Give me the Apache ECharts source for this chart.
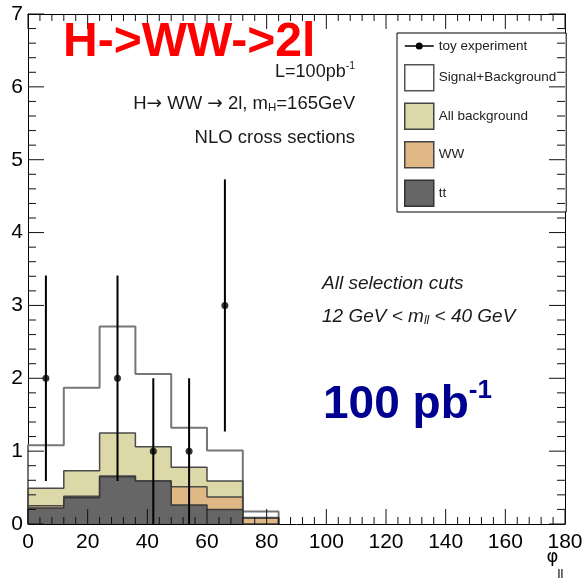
<!DOCTYPE html>
<html><head><meta charset="utf-8">
<script src="https://cdn.jsdelivr.net/npm/echarts@6/dist/echarts.min.js"></script>
<style>html,body{margin:0;padding:0;background:#fff}#c{width:587px;height:581px}</style>
</head><body><div id="c"></div>
<script>
// ---- data ----
const binEdges = [0, 12, 24, 36, 48, 60, 72, 84];
const sigBkg = [1.08, 1.87, 2.71, 2.06, 1.32, 1.01, 0.17];   // Signal+Background
const allBkg = [0.49, 0.73, 1.25, 1.06, 0.78, 0.59, 0.09];   // All background
const wwOnly = [0.03, 0.02, 0.01, 0.00, 0.25, 0.17, 0.08];   // WW (stacked on tt)
const ttOnly = [0.22, 0.36, 0.65, 0.59, 0.26, 0.20, 0.00];   // tt
const toyX = [6, 30, 42, 54, 66];
const toyY = [2, 2, 1, 1, 3];
const toyLow = [0.59, 0.59, 0.00, 0.00, 1.27];
const toyHigh = [3.41, 3.41, 2.00, 2.00, 4.73];
const xTickLabels = ['0', '20', '40', '60', '80', '100', '120', '140', '160', '180'];
const yTickLabels = ['0', '1', '2', '3', '4', '5', '6', '7'];
const xMinorPerMajor = 5;
const yMinorPerMajor = 5;

const FONT = 'Liberation Sans, Arial, Helvetica, sans-serif';
const wwTop = ttOnly.map((t, i) => t + wwOnly[i]);
const X_MAX = Number(xTickLabels[xTickLabels.length - 1]);
const Y_MAX = Number(yTickLabels[yTickLabels.length - 1]);

// tick positions (major from the label arrays, minor subdivisions between them)
const xTicks = [];
xTickLabels.forEach((l, i) => {
  const v = Number(l);
  xTicks.push([v, 0, 1]);
  if (i < xTickLabels.length - 1) {
    const step = (Number(xTickLabels[i + 1]) - v) / xMinorPerMajor;
    for (let k = 1; k < xMinorPerMajor; k++) xTicks.push([v + k * step, 0, 0]);
  }
});
const yTicks = [];
yTickLabels.forEach((l, i) => {
  const v = Number(l);
  yTicks.push([0, v, 1]);
  if (i < yTickLabels.length - 1) {
    const step = (Number(yTickLabels[i + 1]) - v) / yMinorPerMajor;
    for (let k = 1; k < yMinorPerMajor; k++) yTicks.push([0, v + k * step, 0]);
  }
});

function hist(vals) {
  const n = vals.length;
  const d = [[binEdges[0], 0]];
  for (let i = 0; i < n; i++) d.push([binEdges[i], vals[i]]);
  d.push([binEdges[n], vals[n - 1]]);
  d.push([binEdges[n], 0]);
  return d;
}
function histSeries(name, vals, fill, stroke, width) {
  return {
    name, type: 'line', step: 'end', data: hist(vals), symbol: 'none',
    lineStyle: { color: stroke, width }, areaStyle: { color: fill, opacity: 1 },
    itemStyle: { color: fill }, silent: true, z: 2, animation: false
  };
}

function frameAxis(extra) {
  return Object.assign({
    type: 'value',
    axisLine: { show: true, onZero: false, lineStyle: { color: '#000', width: 1 } },
    axisTick: { show: false },
    minorTick: { show: false },
    splitLine: { show: false }
  }, extra);
}

const TICK = { stroke: '#111', lineWidth: 1 };
const toyIcon = 'path://M0,12.3L29,12.3L29,13.7L0,13.7ZM18,13A3.5,3.5,0,1,1,11,13A3.5,3.5,0,1,1,18,13Z';

const chart = echarts.init(document.getElementById('c'), null, { renderer: 'canvas' });
chart.setOption({
  animation: false,
  backgroundColor: '#fff',
  grid: { left: 28, right: 22, top: 14, bottom: 57, containLabel: false, outerBoundsMode: 'none' },
  xAxis: [
    frameAxis({
      position: 'bottom', min: 0, max: X_MAX, interval: 20,
      axisLabel: { show: true, fontSize: 21, color: '#000', fontFamily: FONT, margin: 8,
        formatter: v => xTickLabels[Math.round(v / 20)] }
    }),
    frameAxis({ position: 'top', min: 0, max: X_MAX, interval: 20, axisLabel: { show: false } })
  ],
  yAxis: [
    frameAxis({
      position: 'left', min: 0, max: Y_MAX, interval: 1,
      axisLabel: { show: true, fontSize: 21, color: '#000', fontFamily: FONT, margin: 5,
        formatter: v => yTickLabels[Math.round(v)] }
    }),
    frameAxis({ position: 'right', min: 0, max: Y_MAX, interval: 1, axisLabel: { show: false } })
  ],
  legend: {
    orient: 'vertical', left: 397, top: 33, padding: [6, 10, 5, 7],
    itemWidth: 29, itemHeight: 26, itemGap: 11, selectedMode: false,
    borderColor: '#000', borderWidth: 1, backgroundColor: '#fff', z: 4,
    textStyle: { fontSize: 13.5, color: '#222', fontFamily: FONT },
    data: [
      { name: 'toy experiment', icon: toyIcon, itemStyle: { color: '#000', borderWidth: 0 } },
      { name: 'Signal+Background', icon: 'rect', itemStyle: { color: '#fff', borderColor: '#555', borderWidth: 1.5 } },
      { name: 'All background', icon: 'rect', itemStyle: { color: '#ddd8a8', borderColor: '#444', borderWidth: 1.5 } },
      { name: 'WW', icon: 'rect', itemStyle: { color: '#e0b886', borderColor: '#444', borderWidth: 1.5 } },
      { name: 'tt', icon: 'rect', itemStyle: { color: '#666666', borderColor: '#333', borderWidth: 1.5 } }
    ]
  },
  series: [
    histSeries('Signal+Background', sigBkg, '#ffffff', '#777777', 2),
    histSeries('All background', allBkg, '#ddd8a8', '#4a4a4a', 1.5),
    histSeries('WW', wwTop, '#e0b886', '#4a4a4a', 1.5),
    histSeries('tt', ttOnly, '#666666', '#3a3a3a', 1.5),
    {
      name: 'toy experiment', type: 'custom', z: 3, silent: true,
      data: toyX.map((x, i) => [x, toyLow[i], toyHigh[i]]),
      encode: { x: 0, y: [1, 2] },
      renderItem: function (params, api) {
        const p1 = api.coord([api.value(0), api.value(1)]);
        const p2 = api.coord([api.value(0), api.value(2)]);
        return { type: 'line', shape: { x1: p1[0], y1: p1[1], x2: p2[0], y2: p2[1] },
          style: { stroke: '#000', lineWidth: 2 } };
      }
    },
    {
      name: 'toy experiment', type: 'scatter', z: 4, silent: true,
      data: toyX.map((x, i) => [x, toyY[i]]),
      symbol: 'circle', symbolSize: 7, itemStyle: { color: '#000' }
    },
    {
      // x-axis ticks, bottom and top of the frame, pointing inwards
      type: 'custom', z: 6, silent: true, data: xTicks, encode: { x: 0, y: 1 },
      renderItem: function (params, api) {
        const len = api.value(2) ? 15 : 7;
        const b = api.coord([api.value(0), 0]);
        const t = api.coord([api.value(0), Y_MAX]);
        return { type: 'group', children: [
          { type: 'line', shape: { x1: b[0], y1: b[1], x2: b[0], y2: b[1] - len }, style: TICK },
          { type: 'line', shape: { x1: t[0], y1: t[1], x2: t[0], y2: t[1] + len }, style: TICK }
        ] };
      }
    },
    {
      // y-axis ticks, left and right of the frame, pointing inwards
      type: 'custom', z: 6, silent: true, data: yTicks, encode: { x: 0, y: 1 },
      renderItem: function (params, api) {
        const len = api.value(2) ? 16 : 8;
        const l = api.coord([0, api.value(1)]);
        const r = api.coord([X_MAX, api.value(1)]);
        return { type: 'group', children: [
          { type: 'line', shape: { x1: l[0], y1: l[1], x2: l[0] + len, y2: l[1] }, style: TICK },
          { type: 'line', shape: { x1: r[0], y1: r[1], x2: r[0] - len, y2: r[1] }, style: TICK }
        ] };
      }
    }
  ],
  graphic: [
    { type: 'text', x: 63, y: 42.5, z: 20, style: { text: 'H->WW->2l', fill: '#ff0000',
        fontSize: 48, fontWeight: 'bold', fontFamily: FONT, align: 'left', verticalAlign: 'middle' } },
    { type: 'text', x: 355, y: 71, z: 20, style: { text: '{n|L=100pb}{s|-1}', align: 'right', verticalAlign: 'middle',
        rich: { n: { fontSize: 18, fontFamily: FONT, fill: '#1a1a1a', lineHeight: 20, verticalAlign: 'bottom' },
                s: { fontSize: 10.5, fontFamily: FONT, fill: '#1a1a1a', lineHeight: 12, verticalAlign: 'top' } } } },
    { type: 'text', x: 355, y: 104, z: 20, style: { text: '{n|H}{ar|→}{n| WW }{ar|→}{n| 2l, m}{sub|H}{n|=165GeV}', align: 'right', verticalAlign: 'middle',
        rich: { n: { fontSize: 18.5, fontFamily: FONT, fill: '#1a1a1a', lineHeight: 20 },
                ar: { fontSize: 18.5, fontFamily: 'DejaVu Sans', fill: '#1a1a1a', lineHeight: 20 },
                sub: { fontSize: 11.5, fontFamily: FONT, fill: '#1a1a1a', lineHeight: 10, verticalAlign: 'bottom' } } } },
    { type: 'text', x: 355, y: 137.5, z: 20, style: { text: 'NLO cross sections', align: 'right', verticalAlign: 'middle',
        fontSize: 18.5, fontFamily: FONT, fill: '#1a1a1a' } },
    { type: 'text', x: 322, y: 284, z: 20, style: { text: 'All selection cuts', align: 'left', verticalAlign: 'middle',
        fontSize: 19, fontStyle: 'italic', fontFamily: FONT, fill: '#1a1a1a' } },
    { type: 'text', x: 322, y: 317, z: 20, style: { text: '{n|12 GeV < m}{sub|ll}{n| < 40 GeV}', align: 'left', verticalAlign: 'middle',
        rich: { n: { fontSize: 19, fontStyle: 'italic', fontFamily: FONT, fill: '#1a1a1a', lineHeight: 20 },
                sub: { fontSize: 12, fontStyle: 'italic', fontFamily: FONT, fill: '#1a1a1a', lineHeight: 10, verticalAlign: 'bottom' } } } },
    { type: 'text', x: 323, y: 378, z: 20, style: { text: '{b|100 pb}{s|-1}', align: 'left', verticalAlign: 'top',
        rich: { b: { fontSize: 46, fontWeight: 'bold', fontFamily: FONT, fill: '#000090', lineHeight: 50, verticalAlign: 'bottom' },
                s: { fontSize: 26, fontWeight: 'bold', fontFamily: FONT, fill: '#000090', lineHeight: 30, verticalAlign: 'top' } } } },
    { type: 'text', x: 552.5, y: 557.5, z: 20, style: { text: 'φ', align: 'center', verticalAlign: 'middle',
        fontSize: 18, fontFamily: 'DejaVu Sans', fill: '#000' } },
    { type: 'text', x: 560.5, y: 574, z: 20, style: { text: 'll', align: 'center', verticalAlign: 'middle',
        fontSize: 13, fontFamily: FONT, fill: '#000' } }
  ]
});
</script>
</body></html>
